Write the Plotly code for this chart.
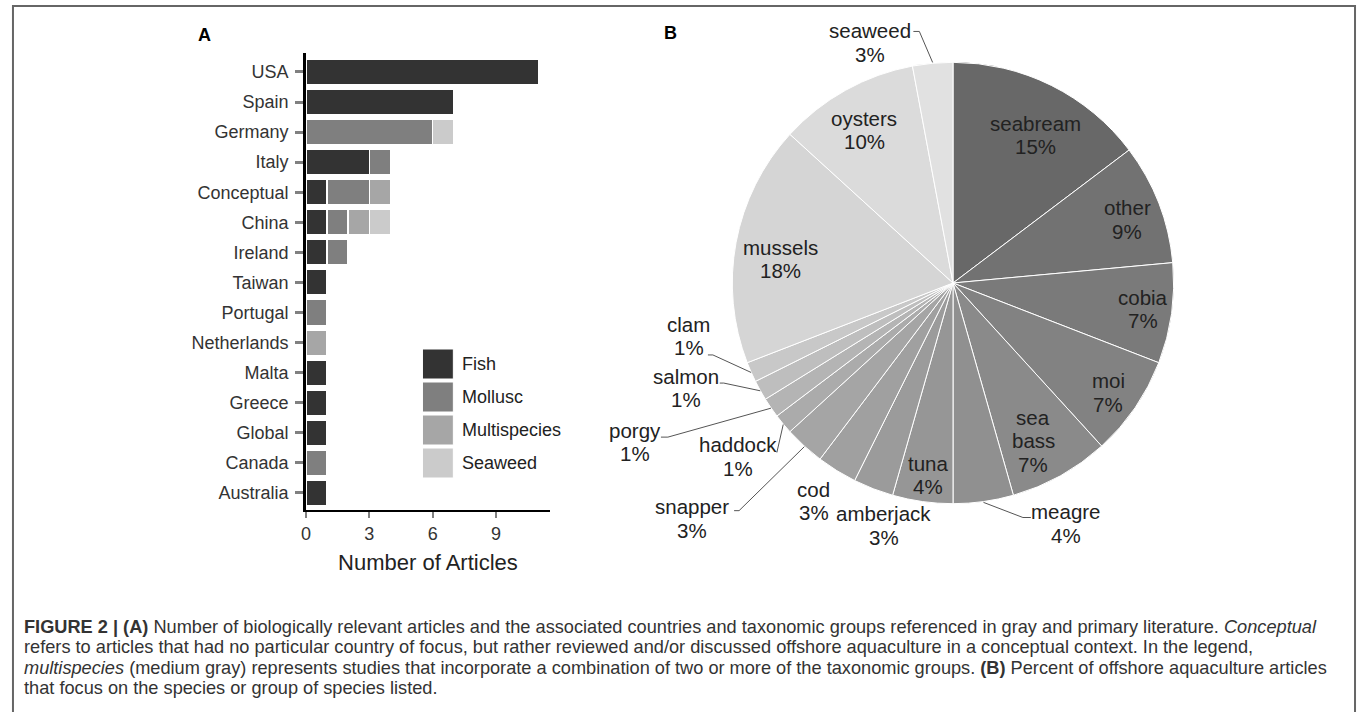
import math
import plotly.graph_objects as go

W, H = 1360, 712

# ---------------- Panel A data ----------------
countries = ["USA", "Spain", "Germany", "Italy", "Conceptual", "China", "Ireland",
             "Taiwan", "Portugal", "Netherlands", "Malta", "Greece", "Global",
             "Canada", "Australia"]
fish =         [11, 7, 0, 3, 1, 1, 1, 1, 0, 0, 1, 1, 1, 0, 1]
mollusc =      [0, 0, 6, 1, 2, 1, 1, 0, 1, 0, 0, 0, 0, 1, 0]
multispecies = [0, 0, 0, 0, 1, 1, 0, 0, 0, 1, 0, 0, 0, 0, 0]
seaweed =      [0, 0, 1, 0, 0, 1, 0, 0, 0, 0, 0, 0, 0, 0, 0]
groups = ["Fish", "Mollusc", "Multispecies", "Seaweed"]
x_ticks = [0, 3, 6, 9]
x_title = "Number of Articles"

# ---------------- Panel B data ----------------
species = ["seabream", "other", "cobia", "moi", "sea bass", "meagre", "tuna",
           "amberjack", "cod", "snapper", "haddock", "porgy", "salmon", "clam",
           "mussels", "oysters", "seaweed"]
articles = [10, 6, 5, 5, 5, 3, 3, 2, 2, 2, 1, 1, 1, 1, 12, 7, 2]

caption_lines = [
    "<b>FIGURE 2 | (A)</b> Number of biologically relevant articles and the associated countries and taxonomic groups referenced in gray and primary literature. <i>Conceptual</i>",
    "refers to articles that had no particular country of focus, but rather reviewed and/or discussed offshore aquaculture in a conceptual context. In the legend,",
    "<i>multispecies</i> (medium gray) represents studies that incorporate a combination of two or more of the taxonomic groups. <b>(B)</b> Percent of offshore aquaculture articles",
    "that focus on the species or group of species listed.",
]

# ---------------- styles ----------------
group_colors = ["#333333", "#7f7f7f", "#a6a6a6", "#cbcbcb"]
slice_colors = ["#686868", "#727272", "#7a7a7a", "#828282", "#8a8a8a", "#909090",
                "#969696", "#9b9b9b", "#a0a0a0", "#a5a5a5", "#ababab", "#b4b4b4",
                "#bebebe", "#c8c8c8", "#d5d5d5", "#dbdbdb", "#e1e1e1"]
FONT = "Liberation Sans, Arial, sans-serif"
TXT = "#222222"


def px(x):
    return x / W


def py(y):
    return 1 - y / H


fig = go.Figure()

# ---------------- Panel A: stacked bars ----------------
series = [fish, mollusc, multispecies, seaweed]
for name, vals, col in zip(groups, series, group_colors):
    fig.add_trace(go.Bar(
        y=countries, x=[v if v else None for v in vals], name=name,
        orientation="h", marker=dict(color=col, line=dict(color="white", width=1.5)),
        showlegend=False, xaxis="x", yaxis="y"))

# ---------------- Panel B: pie ----------------
cx, cy, R = 951.5, 283.0, 221.5
fig.add_trace(go.Pie(
    labels=species, values=articles, sort=False, direction="clockwise", rotation=0,
    marker=dict(colors=slice_colors, line=dict(color="white", width=1)),
    textinfo="none", showlegend=False,
    domain=dict(x=[px(cx - R), px(cx + R)], y=[py(cy + R), py(cy - R)])))

# pie label placement (radius fraction, angle in degrees clockwise from top)
label_pos = {
    "seabream": (0.765, 29.1), "other": (0.84, 70.1), "cobia": (0.87, 97.8),
    "moi": (0.86, 125.0), "sea bass": (0.80, 153.0), "meagre": (1.20, 154.8),
    "tuna": (0.874, 187.3), "amberjack": (1.14, 196.0), "cod": (1.17, 212.7),
    "snapper": (1.59, 228.0), "haddock": (1.25, 231.2), "porgy": (1.61, 243.5),
    "salmon": (1.30, 248.6), "clam": (1.22, 258.7), "mussels": (0.79, 277.9),
    "oysters": (0.80, 329.8), "seaweed": (1.15, 340.8),
}
# leader lines: (elbow dx, elbow dy, end dx) relative to label centre, pixels
leaders = {
    "seaweed": (50, -11, 44), "meagre": (-43, -6, -35), "snapper": (47, -8, 42),
    "haddock": (39, -4, 39), "porgy": (33, -5, 26), "salmon": (38, -5, 34),
    "clam": (24, 19, 19),
}

total = sum(articles)
annotations = []
shapes = []
cum = 0
LINE_H = 23.5
for name, n in zip(species, articles):
    mid = (cum + n / 2) / total * 360
    cum += n
    pct = round(100 * n / total)
    rf, ang = label_pos[name]
    lx = cx + rf * R * math.sin(math.radians(ang))
    ly = cy - rf * R * math.cos(math.radians(ang))
    lines = name.split(" ") if name == "sea bass" else [name]
    lines = lines + [f"{pct}%"]
    k = len(lines)
    for i, t in enumerate(lines):
        yy = ly + (i - (k - 1) / 2) * LINE_H
        annotations.append(dict(x=px(lx), y=py(yy), xref="paper", yref="paper",
                                text=t, showarrow=False, xanchor="center", yanchor="middle",
                                font=dict(family=FONT, size=20.5, color=TXT)))
    if name in leaders:
        ex, ey, endx = leaders[name]
        sx = cx + R * math.sin(math.radians(mid))
        sy = cy - R * math.cos(math.radians(mid))
        path = (f"M {px(sx)},{py(sy)} L {px(lx + ex)},{py(ly + ey)} "
                f"L {px(lx + endx)},{py(ly + ey)}")
        shapes.append(dict(type="path", xref="paper", yref="paper", path=path,
                           line=dict(color="#555555", width=1)))

# ---------------- legend for panel A (manual, large swatches) ----------------
for i, (name, col) in enumerate(zip(groups, group_colors)):
    y0 = 349 + i * 33
    shapes.append(dict(type="rect", xref="paper", yref="paper",
                       x0=px(419), x1=px(450), y0=py(y0), y1=py(y0 + 30),
                       fillcolor=col, line=dict(color="white", width=1)))
    annotations.append(dict(x=px(457), y=py(y0 + 15), xref="paper", yref="paper",
                            text=name, showarrow=False, xanchor="left", yanchor="middle",
                            font=dict(family=FONT, size=18, color=TXT)))

# panel letters
annotations.append(dict(x=px(200), y=py(35), xref="paper", yref="paper", text="<b>A</b>",
                        showarrow=False, xanchor="center", yanchor="middle",
                        font=dict(family=FONT, size=18, color="black")))
annotations.append(dict(x=px(668), y=py(33), xref="paper", yref="paper", text="<b>B</b>",
                        showarrow=False, xanchor="center", yanchor="middle",
                        font=dict(family=FONT, size=18, color="black")))

# caption
for i, t in enumerate(caption_lines):
    annotations.append(dict(x=px(17), y=py(627 + i * 20.3), xref="paper", yref="paper",
                            text=t, showarrow=False, xanchor="left", yanchor="middle",
                            font=dict(family=FONT, size=18.2, color="#333333")))

# outer frame (open at bottom)
shapes.append(dict(type="path", xref="paper", yref="paper",
                   path=f"M {px(8)},{py(712)} L {px(8)},{py(6)} L {px(1355)},{py(6)} L {px(1355)},{py(712)}",
                   line=dict(color="#666666", width=2)))

fig.update_layout(
    width=W, height=H, margin=dict(l=0, r=0, t=0, b=0),
    paper_bgcolor="white", plot_bgcolor="white",
    barmode="stack", bargap=0.15,
    xaxis=dict(domain=[px(302), px(547)], range=[0, 11.55], tickvals=x_ticks,
               ticks="outside", ticklen=6, tickwidth=2, tickcolor="#808080",
               showline=True, linecolor="black", linewidth=2,
               showgrid=False, zeroline=False, anchor="y",
               tickfont=dict(family=FONT, size=18, color="#333333"),
               title=dict(text=x_title, standoff=12,
                          font=dict(family=FONT, size=22, color=TXT))),
    yaxis=dict(domain=[py(510), py(53)], type="category",
               categoryorder="array", categoryarray=countries,
               range=[14.57, -0.63], ticks="outside", ticklen=8, tickwidth=2.5,
               tickcolor="#808080", showline=True, linecolor="black", linewidth=2.5,
               showgrid=False, zeroline=False, anchor="x", ticklabelstandoff=3,
               tickfont=dict(family=FONT, size=18, color="#333333")),
    annotations=annotations, shapes=shapes,
)

fig.write_html("out.html", config={"displayModeBar": False},
               post_script="document.body.style.margin='0';document.body.style.overflow='hidden';")
